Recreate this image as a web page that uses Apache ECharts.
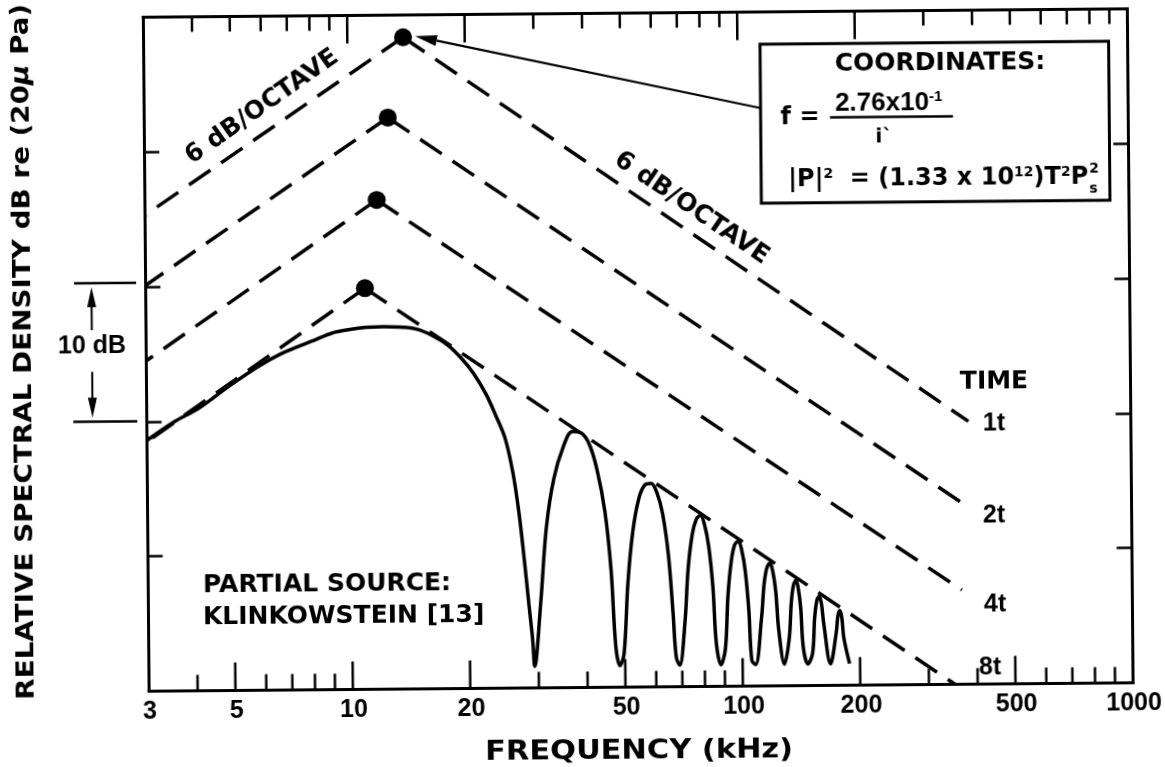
<!DOCTYPE html>
<html>
<head>
<meta charset="utf-8">
<script src="https://cdn.jsdelivr.net/npm/echarts@6/dist/echarts.min.js"></script>
<style>
  html, body { margin: 0; padding: 0; background: #fff; overflow: hidden; }
  /* the printed sheet sits very slightly turned */
  #chart { width: 1165px; height: 767px; transform: rotate(-0.49deg); transform-origin: 50% 50%; }
</style>
</head>
<body>
<div id="chart"></div>
<script>
// ---- axis ranges (frequency in kHz, level in relative dB) ----
const freqMin = 3, freqMax = 1000;
const levelMin = 0, levelMax = 50, levelStep = 10;

const tickLabelValues = [3, 5, 10, 20, 50, 100, 200, 500, 1000];
const tickLabelTexts  = ['3', '5', '10', '20', '50', '100', '200', '500', '1000'];
const tickValues = [4, 5, 6, 7, 8, 9, 10, 20, 30, 40, 50, 60, 70, 80, 90, 100,
                    200, 300, 400, 500, 600, 700, 800, 900];
const bottomMajorTicks = [5, 10, 20, 50, 100, 200, 500];
const topMajorTicks = [10, 20, 100, 200];

// ---- 6 dB/octave envelopes: [left end, peak, right end] ----
const timeLabels = ['1t', '2t', '4t', '8t'];
const envelope1t = [[3, 35.3], [13.9, 48.35], [383.7, 19.5]];
const envelope2t = [[3, 30.1], [12.65, 42.4], [374.8, 13.3]];
const envelope4t = [[3, 24.5], [11.8, 36.3], [365.9, 7.0]];
const envelope8t = [[3, 18.5], [10.96, 29.76], [350, 0]];

// ---- measured spectrum (8t) ----
const mainLobe = [
  [3, 18.6], [3.5, 19.9], [4.1, 21.0], [4.9, 22.6], [5.8, 24.0], [6.6, 24.9],
  [7.4, 25.5], [8.2, 26.0], [9.0, 26.45], [10, 26.7], [11, 26.85], [12.2, 26.9],
  [13.4, 26.85], [14.8, 26.7], [16.3, 26.2], [17.8, 25.5], [19.3, 24.5],
  [20.8, 23.3], [22.3, 21.8], [23.6, 20.2], [24.9, 18.5], [26.0, 16.0],
  [26.9, 13.0], [27.7, 9.5], [28.4, 6.2], [29.0, 3.5], [29.3, 1.6]
];
const sideLobes = [
  [30.45, 6.3], [31.6, 11.9], [33.1, 15.5], [35.1, 17.9], [37.0, 19.0], [38.9, 18.9],
  [40.8, 18.1], [42.7, 16.2], [44.7, 13.0], [46.2, 8.7], [47.35, 3.0], [48.5, 1.6],
  [49.7, 2.5], [51.0, 7.7], [52.6, 11.5], [54.65, 14.0], [56.7, 15.0], [58.75, 15.1],
  [60.8, 14.4], [62.85, 12.8], [64.9, 9.7], [66.5, 5.4], [67.6, 2.2], [69, 1.6],
  [71.3, 4.8], [72.8, 8.7], [74.7, 11.25], [76.6, 12.4], [78.5, 12.7], [80.4, 12.0],
  [82.3, 10.4], [84.2, 7.4], [85.7, 3.2], [88, 1.6],
  [90.4, 2.8], [92, 6.7], [94, 9.3], [96, 10.5], [98, 10.75], [100, 10.1],
  [102, 8.55], [104, 5.6], [105.6, 1.9], [108, 1.6],
  [112, 5.0], [114, 7.6], [116, 8.8], [118, 9.1], [120, 8.5], [122, 7.0], [124, 4.1], [128, 1.6],
  [131.8, 3.5], [133.7, 6.2], [135.6, 7.5], [137.5, 7.8], [139.4, 7.2], [141.3, 5.7],
  [143.2, 2.8], [147, 1.6],
  [151.2, 2.4], [153.3, 5.0], [155.4, 6.3], [157.5, 6.6], [159.6, 6.1], [161.7, 4.6], [168, 1.6],
  [174, 3.9], [176, 5.2], [178, 5.55], [180, 5.0], [182, 3.5], [188, 1.6]
];

// ---- styles ----
const INK = '#000';
const CAPS = '"DejaVu Sans", sans-serif';
const NUMS = '"Liberation Sans", Arial, sans-serif';
const DASH = [26, 13];

const envelopes = [envelope1t, envelope2t, envelope4t, envelope8t];
const peaks = envelopes.map(e => e[1]);

function frameAxis(extra) {
  return Object.assign({
    axisLine: { show: true, onZero: false, lineStyle: { color: INK, width: 3, cap: 'square' } },
    splitLine: { show: false },
    axisLabel: { show: false },
    axisTick: { show: false },
    minorTick: { show: false }
  }, extra);
}

const series = [];
// each envelope is drawn outward from its peak so the dash pattern starts at the dot
envelopes.forEach((env) => {
  [[env[1], env[2]], [env[1], env[0]]].forEach(seg => {
    series.push({
      type: 'line', data: seg, symbol: 'none', silent: true, z: 2,
      lineStyle: { color: INK, width: 3.5, type: DASH }
    });
  });
});
series.push({
  type: 'line', name: '8t spectrum', data: mainLobe.concat(sideLobes),
  symbol: 'none', smooth: 0.35, silent: true, z: 3,
  lineStyle: { color: INK, width: 3.5 }
});
const scatterIndex = series.length;
series.push({
  type: 'scatter', data: peaks, symbol: 'circle', symbolSize: 18, z: 5,
  itemStyle: { color: INK, opacity: 1 }, silent: true
});
// frame ticks (inward, top and bottom)
series.push({
  type: 'custom', silent: true, clip: false, z: 4,
  data: tickValues.map(v => [v, levelMin]), encode: { x: 0, y: 1 },
  renderItem(params, api) {
    const v = api.value(0);
    const b = api.coord([v, levelMin]);
    const t = api.coord([v, levelMax]);
    const lb = bottomMajorTicks.includes(v) ? 28 : 16;
    const lt = topMajorTicks.includes(v) ? 28 : 15;
    const st = { stroke: INK, lineWidth: 2.5 };
    return { type: 'group', children: [
      { type: 'line', shape: { x1: b[0], y1: b[1], x2: b[0], y2: b[1] - lb }, style: st },
      { type: 'line', shape: { x1: t[0], y1: t[1], x2: t[0], y2: t[1] + lt }, style: st }
    ] };
  }
});
// frequency labels under the frame
series.push({
  type: 'custom', silent: true, clip: false, z: 4,
  data: tickLabelValues.map(v => [v, levelMin]), encode: { x: 0, y: 1 },
  renderItem(params, api) {
    const p = api.coord([api.value(0), levelMin]);
    return { type: 'text', x: p[0] + 1, y: p[1] + 21, style: {
      text: tickLabelTexts[params.dataIndex], fill: INK,
      font: 'bold 25px ' + NUMS, align: 'center', verticalAlign: 'middle'
    } };
  }
});

const option = {
  animation: false,
  backgroundColor: '#fff',
  grid: { left: 146.3, top: 13.5, width: 984, height: 674, containLabel: false },
  xAxis: [
    frameAxis({ type: 'log', logBase: 10, min: freqMin, max: freqMax, position: 'bottom' }),
    frameAxis({ type: 'log', logBase: 10, min: freqMin, max: freqMax, position: 'top' })
  ],
  yAxis: [
    frameAxis({ type: 'value', min: levelMin, max: levelMax, interval: levelStep, position: 'left',
      axisTick: { show: true, inside: true, length: 15, lineStyle: { color: INK, width: 2.5 } } }),
    frameAxis({ type: 'value', min: levelMin, max: levelMax, interval: levelStep, position: 'right',
      axisTick: { show: true, inside: true, length: 15, lineStyle: { color: INK, width: 2.5 } } })
  ],
  series: series
};

const chart = echarts.init(document.getElementById('chart'));
chart.setOption(option);

// ---- annotations ----
function text(x, y, str, font, extra) {
  const e = { type: 'text', x: x, y: y, silent: true, z: 10,
    style: Object.assign({ text: str, fill: INK, font: font, align: 'center', verticalAlign: 'middle' },
      (extra && extra.style) || {}) };
  if (extra && extra.rotation) e.rotation = extra.rotation;
  if (extra && extra.scaleX) e.scaleX = extra.scaleX;
  return e;
}
const capsFont = sz => 'bold ' + sz + 'px ' + CAPS;
const numFont = sz => 'bold ' + sz + 'px ' + NUMS;
const tilt = 34.7 * Math.PI / 180;

const els = [];
// axis titles
els.push({
  type: 'text', x: 24.3, y: 347, rotation: Math.PI / 2, scaleX: 1.09, silent: true,
  style: {
    text: '{t|RELATIVE SPECTRAL DENSITY dB re (20}{m|μ}{t| Pa)}',
    align: 'center', verticalAlign: 'middle',
    rich: {
      t: { fontSize: 25.5, fontWeight: 'bold', fontFamily: CAPS, fill: INK },
      m: { fontSize: 25.5, fontWeight: 'bold', fontStyle: 'italic', fontFamily: CAPS, fill: INK }
    }
  }
});
els.push(text(636, 752.4, 'FREQUENCY (kHz)', capsFont(26), { scaleX: 1.17 }));

// 10 dB bracket
const yTop = 279, yBot = 417.6, xBr = 92.3;
const stroke2 = { stroke: INK, lineWidth: 2.5 };
els.push({ type: 'line', silent: true, shape: { x1: 75, y1: yTop, x2: 137, y2: yTop }, style: stroke2 });
els.push({ type: 'line', silent: true, shape: { x1: 73, y1: yBot, x2: 137, y2: yBot }, style: stroke2 });
els.push({ type: 'line', silent: true, shape: { x1: xBr, y1: yTop + 20, x2: xBr, y2: yTop + 47 }, style: { stroke: INK, lineWidth: 2 } });
els.push({ type: 'polygon', silent: true, shape: { points: [[xBr, yTop + 4], [xBr - 4.5, yTop + 24], [xBr + 4.5, yTop + 24]] }, style: { fill: INK } });
els.push({ type: 'line', silent: true, shape: { x1: xBr, y1: yBot - 50, x2: xBr, y2: yBot - 22 }, style: { stroke: INK, lineWidth: 2 } });
els.push({ type: 'polygon', silent: true, shape: { points: [[xBr, yBot - 4], [xBr - 4.5, yBot - 24], [xBr + 4.5, yBot - 24]] }, style: { fill: INK } });
els.push(text(92.3, 341.8, '10 dB', numFont(25)));

// slope notes
els.push(text(264.4, 104.2, '6 dB/OCTAVE', capsFont(25), { rotation: tilt }));
els.push(text(693.2, 209.2, '6 dB/OCTAVE', capsFont(25), { rotation: -tilt }));

// time labels
els.push(text(994, 385.5, 'TIME', capsFont(25)));
const timePos = [[993.7, 427.5], [992.9, 519.5], [993.1, 608.5], [987.6, 671.5]];
timeLabels.forEach((s, i) => els.push(text(timePos[i][0], timePos[i][1], s, numFont(25))));

// source note
els.push(text(201.3, 582.7, 'PARTIAL SOURCE:', capsFont(25), { style: { align: 'left' } }));
els.push(text(201, 614.7, 'KLINKOWSTEIN [13]', capsFont(25), { style: { align: 'left' } }));

// coordinates box
const box = { x: 762.9, y: 45.7, w: 348.6, h: 159 };
els.push({ type: 'rect', silent: true, z: 8, shape: { x: box.x, y: box.y, width: box.w, height: box.h },
  style: { fill: '#fff', stroke: INK, lineWidth: 3 } });
els.push(text(942.8, 66.1, 'COORDINATES:', capsFont(25)));
els.push(text(802.3, 120, 'f =', capsFont(24)));
els.push({
  type: 'text', x: 837.4, y: 105.7, silent: true, z: 10,
  style: {
    text: '2.76x10{s|-1}', align: 'left', verticalAlign: 'middle', fill: INK, font: numFont(26),
    rich: { s: { fontSize: 15, fontWeight: 'bold', fontFamily: NUMS, fill: INK, verticalAlign: 'top' } }
  }
});
els.push({ type: 'line', silent: true, z: 10, shape: { x1: 832.3, y1: 119.4, x2: 955.3, y2: 119.4 }, style: { stroke: INK, lineWidth: 2.5 } });
els.push(text(886, 139.6, 'i`', capsFont(20)));
els.push({
  type: 'text', x: 1090, y: 181.5, silent: true, z: 10,
  style: {
    text: '|P|{s|2}  = (1.33 x 10{s|12})T{s|2}P', align: 'right', verticalAlign: 'middle',
    fill: INK, font: capsFont(24),
    rich: { s: { fontSize: 14, fontWeight: 'bold', fontFamily: CAPS, fill: INK, verticalAlign: 'top' } }
  }
});
els.push(text(1091, 173, '2', capsFont(14), { style: { align: 'left' } }));
els.push(text(1091, 193, 's', capsFont(14), { style: { align: 'left' } }));

// leader from the box to the 1t peak
const pk = chart.convertToPixel({ seriesIndex: scatterIndex }, peaks[0]);
const tip = [pk[0] + 12, pk[1] - 1];
const tail = [box.x - 0.5, 109.5];
const dx = tip[0] - tail[0], dy = tip[1] - tail[1];
const len = Math.hypot(dx, dy), ux = dx / len, uy = dy / len;
const base = [tip[0] - ux * 22, tip[1] - uy * 22];
const nx = -uy * 5.5, ny = ux * 5.5;
els.push({ type: 'line', silent: true, z: 9, shape: { x1: tail[0], y1: tail[1], x2: base[0], y2: base[1] }, style: { stroke: INK, lineWidth: 2.3 } });
els.push({ type: 'polygon', silent: true, z: 9, shape: { points: [tip, [base[0] + nx, base[1] + ny], [base[0] - nx, base[1] - ny]] }, style: { fill: INK } });

chart.setOption({ graphic: { elements: els } });
</script>
</body>
</html>
